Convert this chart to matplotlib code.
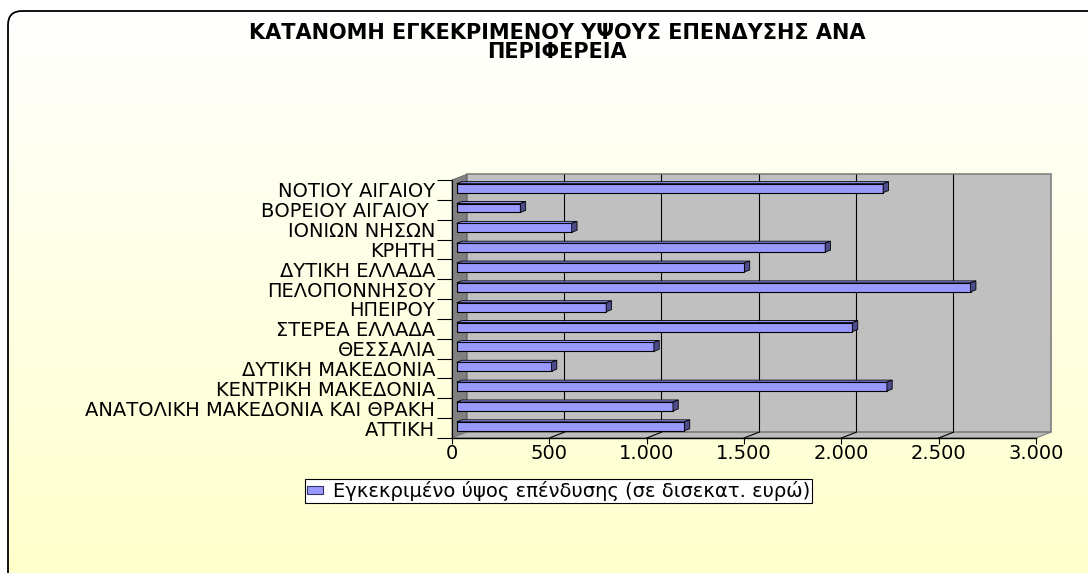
import numpy as np
import matplotlib
matplotlib.use("Agg")
import matplotlib.pyplot as plt
import matplotlib.transforms as mtransforms
from matplotlib.patches import Rectangle, Polygon, FancyBboxPatch, Patch

plt.rcParams['font.family'] = ['DejaVu Sans']

# data (first category is drawn at the bottom, as in the original sheet)
regions = ["ΑΤΤΙΚΗ", "ΑΝΑΤΟΛΙΚΗ ΜΑΚΕΔΟΝΙΑ ΚΑΙ ΘΡΑΚΗ", "ΚΕΝΤΡΙΚΗ ΜΑΚΕΔΟΝΙΑ",
           "ΔΥΤΙΚΗ ΜΑΚΕΔΟΝΙΑ", "ΘΕΣΣΑΛΙΑ", "ΣΤΕΡΕΑ ΕΛΛΑΔΑ", "ΗΠΕΙΡΟΥ",
           "ΠΕΛΟΠΟΝΝΗΣΟΥ", "ΔΥΤΙΚΗ ΕΛΛΑΔΑ", "ΚΡΗΤΗ", "ΙΟΝΙΩΝ ΝΗΣΩΝ",
           "ΒΟΡΕΙΟΥ ΑΙΓΑΙΟΥ ", "ΝΟΤΙΟΥ ΑΙΓΑΙΟΥ"]
investment = [1170, 1111, 2210, 487, 1013, 2033, 768, 2640, 1478, 1893, 591, 327, 2191]
x_ticks = [0, 500, 1000, 1500, 2000, 2500, 3000]
x_ticklabels = ["0", "500", "1.000", "1.500", "2.000", "2.500", "3.000"]
title = "ΚΑΤΑΝΟΜΗ ΕΓΚΕΚΡΙΜΕΝΟΥ ΥΨΟΥΣ ΕΠΕΝΔΥΣΗΣ ΑΝΑ\nΠΕΡΙΦΕΡΕΙΑ"
series_name = "Εγκεκριμένο ύψος επένδυσης (σε δισεκατ. ευρώ)"

W, H, DPI = 1088, 573, 100
fig = plt.figure(figsize=(W / DPI, H / DPI), dpi=DPI)
fig.patch.set_facecolor("white")

# background: rounded frame with a white -> pale yellow gradient
bg = fig.add_axes([0, 0, 1, 1], zorder=-5)
bg.set_xlim(0, W)
bg.set_ylim(H, 0)
bg.axis("off")
grad = np.linspace(0, 1, 256)[:, None]
top_c = np.array([1.0, 1.0, 1.0])
bot_c = np.array([1.0, 1.0, 0.80])
img = top_c[None, None, :] * (1 - grad[..., None]) + bot_c[None, None, :] * grad[..., None]
img = np.repeat(img, 2, axis=1)
frame = FancyBboxPatch((8, 11), 1110, 620, boxstyle="round,pad=0,rounding_size=14",
                       facecolor="none", edgecolor="black", lw=1.3)
bg.add_patch(frame)
im = bg.imshow(img, extent=(0, W, H, 11), aspect="auto", interpolation="bilinear")
im.set_clip_path(frame)

# main axes = front plane of the 3d box
ax = fig.add_axes([452 / W, 1 - 438 / H, 584 / W, 258 / H])
ax.set_facecolor("none")
n = len(regions)
ax.set_xlim(0, 3000)
ax.set_ylim(-0.5, n - 0.5)
for s in ["top", "right"]:
    ax.spines[s].set_visible(False)
ax.spines["bottom"].set_linewidth(1.0)
ax.spines["left"].set_linewidth(0.8)

def off(dx, dy):
    return mtransforms.ScaledTranslation(dx / DPI, dy / DPI, fig.dpi_scale_trans)

def disp(x, y):
    return ax.transData.transform((x, y))

WALL = (14.7, 5.7)   # depth of the box in pixels
BFRONT = (4.7, 1.8)  # where the bar front sits
BDEPTH = (5.3, 2.0)  # depth of each bar
ident = mtransforms.IdentityTransform()

# back wall
ax.add_patch(Rectangle((0, -0.5), 3000, n, transform=ax.transData + off(*WALL),
                       facecolor="#C0C0C0", edgecolor="#808080", lw=1.2,
                       clip_on=False, zorder=0.2))
ax.vlines(x_ticks[1:-1], -0.5, n - 0.5, transform=ax.transData + off(*WALL),
          colors="black", lw=0.8, clip_on=False, zorder=0.3)

# left wall
p0, p1 = disp(0, -0.5), disp(0, n - 0.5)
ax.add_patch(Polygon([p0, p1, p1 + WALL, p0 + WALL], closed=True, transform=ident,
                     facecolor="#808080", edgecolor="#606060", lw=0.6,
                     clip_on=False, zorder=0.25))

# floor
q0, q1 = disp(0, -0.5), disp(3000, -0.5)
ax.add_patch(Polygon([q0, q1, q1 + WALL, q0 + WALL], closed=True, transform=ident,
                     facecolor="#BDBDBD", edgecolor="#808080", lw=0.8,
                     clip_on=False, zorder=0.25))
for xt in x_ticks[1:-1]:
    a = disp(xt, -0.5)
    ax.plot([a[0], a[0] + WALL[0]], [a[1], a[1] + WALL[1]], transform=ident,
            color="black", lw=0.8, clip_on=False, zorder=0.3)

# bars: front faces through barh, top and side faces from the same values
bh = 0.45
ypos = np.arange(n)
ax.barh(ypos, investment, height=bh, left=0, color="#9999FF", edgecolor="black",
        lw=0.8, transform=ax.transData + off(*BFRONT), clip_on=False, zorder=2)
for y, v in zip(ypos, investment):
    tl = disp(0, y + bh / 2) + BFRONT
    tr = disp(v, y + bh / 2) + BFRONT
    br = disp(v, y - bh / 2) + BFRONT
    ax.add_patch(Polygon([tl, tr, tr + BDEPTH, tl + BDEPTH], closed=True, transform=ident,
                         facecolor="#8C8CF0", edgecolor="black", lw=0.6,
                         clip_on=False, zorder=2.1))
    ax.add_patch(Polygon([br, tr, tr + BDEPTH, br + BDEPTH], closed=True, transform=ident,
                         facecolor="#4D4D8C", edgecolor="black", lw=0.6,
                         clip_on=False, zorder=2.1))

# axes ticks and labels
ax.set_xticks(x_ticks)
ax.set_xticklabels(x_ticklabels)
ax.tick_params(axis="x", direction="out", length=4.1, width=0.8, pad=0.5,
               labelsize=14, colors="black")
ax.set_yticks(ypos)
ax.set_yticklabels(regions)
ax.set_yticks(np.arange(-0.5, n, 1.0), minor=True)
ax.tick_params(axis="y", which="major", length=0, pad=12, labelsize=14)
ax.tick_params(axis="y", which="minor", length=10.8, width=0.8, color="black")

fig.text(557 / W, 1 - 42.5 / H, title, ha="center", va="center", fontsize=15,
         fontweight="bold", linespacing=0.95)

leg = fig.legend(handles=[Patch(facecolor="#9999FF", edgecolor="#333366", lw=0.8,
                                label=series_name)],
                 loc="center", bbox_to_anchor=(558.5 / W, 1 - 491 / H),
                 fontsize=14, frameon=True, fancybox=False, framealpha=1,
                 edgecolor="black", borderpad=0.1, handlelength=0.8,
                 handleheight=0.3, handletextpad=0.5, borderaxespad=0)
leg.get_frame().set_linewidth(0.8)

fig.savefig("out.png", dpi=DPI)
